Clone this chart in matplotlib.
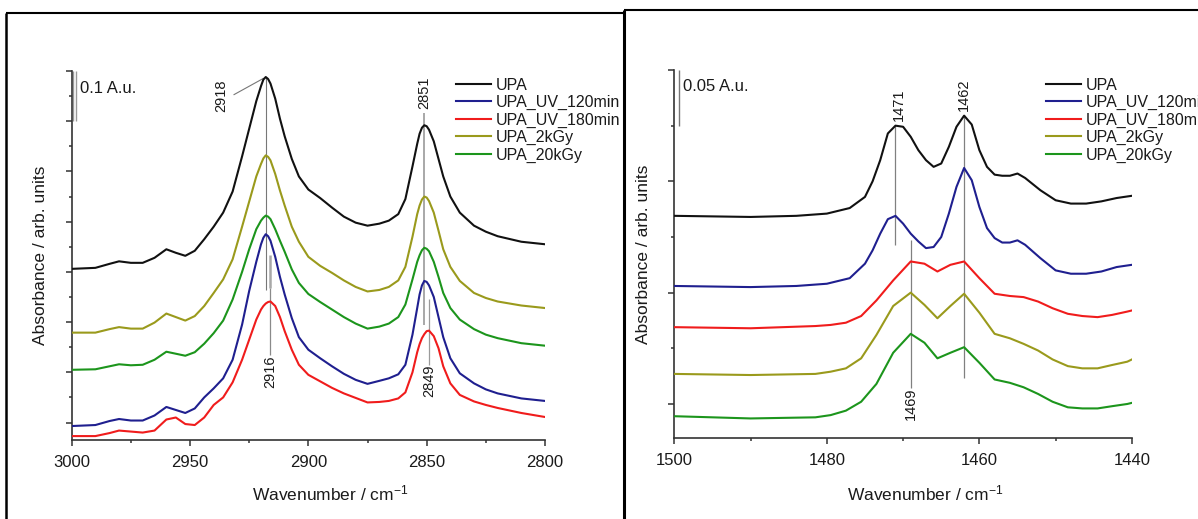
import matplotlib
matplotlib.use("Agg")
import matplotlib.pyplot as plt
from matplotlib.ticker import MultipleLocator
from matplotlib.lines import Line2D

plt.rcParams['font.family'] = ['Liberation Sans', 'DejaVu Sans']
plt.rcParams['mathtext.fontset'] = 'custom'
plt.rcParams['mathtext.rm'] = 'Liberation Sans'
plt.rcParams['mathtext.it'] = 'Liberation Sans:italic'
plt.rcParams['mathtext.bf'] = 'Liberation Sans:bold'

# ---------------- data: C-H stretching region ----------------
wn_stretch = [3000, 2990, 2984, 2980, 2975, 2970, 2965, 2960, 2956, 2952, 2948,
              2944, 2940, 2936, 2932, 2928, 2925, 2922, 2920, 2919, 2918, 2917, 2916,
              2914, 2912, 2910, 2907, 2904, 2900, 2895, 2890, 2885, 2880, 2875, 2870,
              2866, 2862, 2859, 2856, 2854, 2853, 2852, 2851, 2850, 2849, 2847, 2845,
              2843, 2840, 2836, 2830, 2825, 2820, 2810, 2800]

upa_s = [0.306, 0.308, 0.316, 0.321, 0.318, 0.318, 0.328, 0.345, 0.338, 0.332, 0.342,
         0.365, 0.390, 0.418, 0.460, 0.530, 0.585, 0.640, 0.670, 0.683, 0.688, 0.684, 0.675,
         0.645, 0.605, 0.570, 0.525, 0.490, 0.464, 0.447, 0.428, 0.410, 0.398, 0.392, 0.396,
         0.402, 0.415, 0.445, 0.510, 0.555, 0.575, 0.587, 0.592, 0.590, 0.583, 0.560, 0.525,
         0.490, 0.450, 0.418, 0.392, 0.380, 0.371, 0.360, 0.355]

uv120_s = [-0.007, -0.005, 0.003, 0.007, 0.004, 0.004, 0.014, 0.031, 0.025, 0.019, 0.028,
           0.050, 0.068, 0.088, 0.125, 0.195, 0.262, 0.320, 0.355, 0.368, 0.375, 0.371, 0.362,
           0.330, 0.290, 0.255, 0.208, 0.170, 0.145, 0.128, 0.112, 0.097, 0.085, 0.077, 0.083,
           0.088, 0.096, 0.115, 0.175, 0.228, 0.255, 0.273, 0.282, 0.280, 0.273, 0.250, 0.210,
           0.170, 0.128, 0.098, 0.078, 0.066, 0.058, 0.048, 0.043]

uv180_s = [-0.027, -0.027, -0.021, -0.016, -0.018, -0.020, -0.016, 0.006, 0.010, -0.003, -0.005,
           0.010, 0.035, 0.050, 0.080, 0.125, 0.165, 0.205, 0.225, 0.232, 0.237, 0.240, 0.241,
           0.232, 0.210, 0.182, 0.145, 0.115, 0.095, 0.082, 0.069, 0.058, 0.049, 0.040, 0.041,
           0.043, 0.048, 0.060, 0.100, 0.140, 0.156, 0.168, 0.176, 0.182, 0.183, 0.172, 0.148,
           0.112, 0.078, 0.055, 0.042, 0.035, 0.029, 0.019, 0.011]

kgy2_s = [0.179, 0.179, 0.186, 0.190, 0.187, 0.187, 0.199, 0.217, 0.210, 0.203, 0.212,
          0.232, 0.258, 0.285, 0.325, 0.390, 0.440, 0.490, 0.515, 0.526, 0.532, 0.529, 0.522,
          0.495, 0.462, 0.432, 0.390, 0.360, 0.330, 0.312, 0.298, 0.283, 0.270, 0.261, 0.264,
          0.270, 0.283, 0.310, 0.370, 0.415, 0.432, 0.444, 0.450, 0.448, 0.441, 0.418, 0.382,
          0.345, 0.310, 0.282, 0.258, 0.248, 0.241, 0.233, 0.228]

kgy20_s = [0.105, 0.106, 0.112, 0.116, 0.114, 0.115, 0.125, 0.141, 0.137, 0.133, 0.140,
           0.157, 0.178, 0.203, 0.245, 0.300, 0.345, 0.385, 0.402, 0.408, 0.412, 0.410, 0.405,
           0.385, 0.362, 0.340, 0.305, 0.278, 0.256, 0.240, 0.225, 0.210, 0.197, 0.187, 0.191,
           0.197, 0.210, 0.235, 0.285, 0.320, 0.333, 0.343, 0.348, 0.346, 0.341, 0.320, 0.290,
           0.258, 0.228, 0.205, 0.186, 0.175, 0.168, 0.158, 0.153]

# ---------------- data: CH2 bending region ----------------
wn_bend_fine = [1500, 1490, 1484, 1480, 1477, 1475, 1474, 1473, 1472, 1471, 1470, 1469,
                1468, 1467, 1466, 1465, 1464, 1463, 1462, 1461, 1460, 1459, 1458, 1457,
                1456, 1455, 1454, 1452, 1450, 1448, 1446, 1444, 1442, 1440]

upa_b = [0.169, 0.168, 0.169, 0.171, 0.176, 0.186, 0.200, 0.219, 0.243, 0.250, 0.249, 0.240,
         0.228, 0.219, 0.213, 0.216, 0.231, 0.249, 0.259, 0.251, 0.228, 0.213, 0.206, 0.205,
         0.205, 0.207, 0.203, 0.192, 0.183, 0.180, 0.180, 0.182, 0.185, 0.187]

uv120_b = [0.106, 0.105, 0.106, 0.108, 0.113, 0.126, 0.138, 0.153, 0.166, 0.169, 0.162, 0.153,
           0.146, 0.140, 0.141, 0.150, 0.171, 0.195, 0.212, 0.201, 0.177, 0.158, 0.149, 0.145,
           0.145, 0.147, 0.143, 0.131, 0.120, 0.117, 0.117, 0.119, 0.123, 0.125]

wn_bend_coarse = [1500, 1490, 1481.5, 1479.5, 1477.5, 1475.5, 1473.5, 1471.3, 1469, 1467.2,
                  1465.5, 1463.8, 1462, 1460, 1458, 1456, 1454.2, 1452.3, 1450.4, 1448.4,
                  1446.5, 1444.5, 1442.6, 1440.6, 1440]

uv180_b = [0.069, 0.068, 0.070, 0.071, 0.073, 0.079, 0.093, 0.111, 0.128, 0.126,
           0.119, 0.125, 0.128, 0.113, 0.099, 0.097, 0.096, 0.092, 0.086, 0.081,
           0.079, 0.078, 0.080, 0.083, 0.084]

kgy2_b = [0.027, 0.026, 0.027, 0.029, 0.032, 0.041, 0.062, 0.088, 0.100, 0.089,
          0.077, 0.088, 0.099, 0.082, 0.063, 0.059, 0.054, 0.048, 0.040, 0.034,
          0.032, 0.032, 0.035, 0.038, 0.040]

kgy20_b = [-0.011, -0.013, -0.012, -0.010, -0.006, 0.002, 0.018, 0.046, 0.063, 0.055,
           0.041, 0.046, 0.051, 0.037, 0.022, 0.019, 0.015, 0.009, 0.002, -0.003,
           -0.004, -0.004, -0.002, 0.000, 0.001]

labels = ['UPA', 'UPA_UV_120min', 'UPA_UV_180min', 'UPA_2kGy', 'UPA_20kGy']
colors = ['#111111', '#1f1f8f', '#f01c1c', '#9a9a1c', '#1c951c']

# ---------------- figure ----------------
W, H = 1198, 519
fig = plt.figure(figsize=(W / 100, H / 100), dpi=100)
TXT = '#1a1a1a'
AX = '#333333'


def px_box(x0, x1, ytop, ybot):
    return [x0 / W, 1 - ybot / H, (x1 - x0) / W, (ybot - ytop) / H]


def style_axes(ax, xmaj, xmin):
    for s in ('top', 'right'):
        ax.spines[s].set_visible(False)
    for s in ('left', 'bottom'):
        ax.spines[s].set_color(AX)
        ax.spines[s].set_linewidth(1.2)
    ax.xaxis.set_major_locator(MultipleLocator(xmaj))
    ax.xaxis.set_minor_locator(MultipleLocator(xmin))
    ax.yaxis.set_major_locator(MultipleLocator(0.1))
    ax.yaxis.set_minor_locator(MultipleLocator(0.05))
    ax.tick_params(which='both', direction='out', color=AX, width=1.1)
    ax.tick_params(which='major', length=4.5)
    ax.tick_params(which='minor', length=2.5)
    ax.tick_params(axis='x', labelsize=12, labelcolor=TXT, pad=6.5)
    ax.tick_params(axis='y', labelleft=False)


ax1 = fig.add_axes(px_box(71.7, 545, 71, 439.5))
ax2 = fig.add_axes(px_box(674.3, 1131.9, 70, 437.7))

# stretching region curves
stretch = [upa_s, uv120_s, uv180_s, kgy2_s, kgy20_s]
h1 = []
for y, c, lab in zip(stretch, colors, labels):
    h1 += ax1.plot(wn_stretch, y, color=c, lw=1.5, label=lab, zorder=3,
                   solid_joinstyle='round')
ax1.set_xlim(3000, 2800)
ax1.set_ylim(-0.0338, 0.70)
style_axes(ax1, 50, 25)

# bending region curves
bend = [(wn_bend_fine, upa_b), (wn_bend_fine, uv120_b), (wn_bend_coarse, uv180_b),
        (wn_bend_coarse, kgy2_b), (wn_bend_coarse, kgy20_b)]
h2 = []
for (x, y), c, lab in zip(bend, colors, labels):
    h2 += ax2.plot(x, y, color=c, lw=1.5, label=lab, zorder=3,
                   solid_joinstyle='round')
ax2.set_xlim(1500, 1440)
ax2.set_ylim(-0.0303, 0.30)
style_axes(ax2, 20, 10)

# peak markers, stretching region
ax1.vlines(2918, 0.264, 0.688, color='#777777', lw=0.8, zorder=2)
ax1.vlines(2916, 0.268, 0.334, color='#a8a8a8', lw=1.8, zorder=2)
ax1.vlines(2916, 0.135, 0.268, color='#8a8a8a', lw=0.9, zorder=2)
ax1.vlines(2851, 0.195, 0.616, color='#a8a8a8', lw=1.4, zorder=2)
ax1.vlines(2849, 0.115, 0.245, color='#9a9a9a', lw=0.9, zorder=2)
ax1.plot([2931.4, 2919.1], [0.653, 0.685], color='#777777', lw=0.8)
ann = dict(rotation=90, ha='center', va='center', fontsize=10.5, color=TXT)
ax1.text(2936.6, 0.650, '2918', **ann)
ax1.text(2851, 0.656, '2851', **ann)
ax1.text(2916, 0.101, '2916', **ann)
ax1.text(2849, 0.083, '2849', **ann)

# peak markers, bending region
ax2.vlines(1471, 0.143, 0.250, color='#808080', lw=0.9, zorder=2)
ax2.vlines(1462, 0.023, 0.260, color='#808080', lw=0.9, zorder=2)
ax2.vlines(1469, 0.014, 0.147, color='#808080', lw=0.9, zorder=2)
ax2.text(1470.5, 0.2686, '1471', **ann)
ax2.text(1462, 0.2776, '1462', **ann)
ax2.text(1469, 0.0, '1469', **ann)

# absorbance scale bars
ax1.vlines([2999.3, 2998.3], 0.6, 0.7, color='#999999', lw=1.0)
ax1.text(2996.5, 0.6656, '0.1 A.u.', fontsize=12, color=TXT, ha='left', va='center')
ax2.vlines(1499.4, 0.25, 0.30, color='#777777', lw=1.0)
ax2.text(1498.9, 0.285, '0.05 A.u.', fontsize=12, color=TXT, ha='left', va='center')

# legends (the right-hand one runs past the figure edge)
for ax, hs, x0 in ((ax1, h1, 456), (ax2, h2, 1046)):
    leg = ax.legend(handles=hs, loc='upper left', bbox_to_anchor=(x0 / W, 1 - 77.5 / H),
                    bbox_transform=fig.transFigure, frameon=False, borderpad=0,
                    borderaxespad=0, handlelength=2.2, handletextpad=0.28,
                    labelspacing=0.15, fontsize=11.5)
    for t in leg.get_texts():
        t.set_color(TXT)

# axis titles
for xc, yc in ((40.5, 255), (643, 254)):
    fig.text(xc / W, 1 - yc / H, 'Absorbance / arb. units', rotation=90,
             ha='center', va='center', fontsize=12.5, color=TXT)
for xc in (330.5, 925):
    fig.text(xc / W, 1 - 500.5 / H, 'Wavenumber / cm$^{-1}$', ha='center',
             va='baseline', fontsize=12.5, color=TXT)

# panel frames
frame = dict(color='black', transform=fig.transFigure, solid_capstyle='butt')
fig.add_artist(Line2D([6 / W, 624 / W], [1 - 12.5 / H] * 2, lw=1.5, **frame))
fig.add_artist(Line2D([6 / W] * 2, [1 - 12.5 / H, 0], lw=1.8, **frame))
fig.add_artist(Line2D([624 / W] * 2, [1 - 9.5 / H, 0], lw=2.2, **frame))
fig.add_artist(Line2D([624 / W, 1], [1 - 10 / H] * 2, lw=1.5, **frame))

fig.savefig('out.png', dpi=100)
